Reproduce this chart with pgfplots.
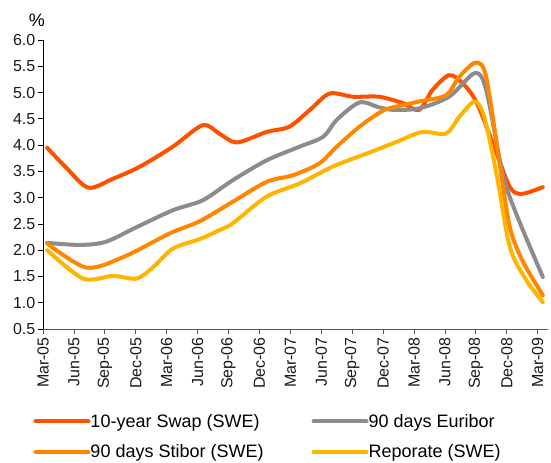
\documentclass[border=0pt]{standalone}
\usepackage{fontspec}
\setmainfont{Liberation Sans}
\usepackage{pgfplots}
\pgfplotsset{compat=1.18}
\definecolor{cswap}{RGB}{255,80,0}
\definecolor{ceur}{RGB}{140,140,140}
\definecolor{cstib}{RGB}{255,135,0}
\definecolor{crepo}{RGB}{255,180,0}
\begin{document}
\begin{tikzpicture}
\path[use as bounding box] (-43bp,-134bp) rectangle (508bp,329bp);
\begin{axis}[
  at={(0,0)}, anchor=south west,
  scale only axis, width=505bp, height=289bp,
  xmin=0, xmax=49, ymin=0.5, ymax=6.0,
  axis x line*=bottom, axis y line*=left,
  x axis line style={-, draw=black!65, line width=0.8bp},
  y axis line style={-, draw=black, line width=0.8bp},
  xtick={0,3,...,48},
  xticklabels={Mar-05,Jun-05,Sep-05,Dec-05,Mar-06,Jun-06,Sep-06,Dec-06,Mar-07,Jun-07,Sep-07,Dec-07,Mar-08,Jun-08,Sep-08,Dec-08,Mar-09},
  ytick={0.5,1,1.5,2,2.5,3,3.5,4,4.5,5,5.5,6},
  tick align=outside, major tick length=5bp,
  x tick style={draw=black!65, line width=0.8bp},
  y tick style={draw=black, line width=0.8bp},
  /pgf/number format/assume math mode=true,
  yticklabel style={/pgf/number format/fixed, /pgf/number format/fixed zerofill, /pgf/number format/precision=1, inner sep=2.5bp},
  tick label style={font=\fontsize{16bp}{18bp}\selectfont, text=black!90},
  x tick label style={rotate=90, anchor=east, inner sep=3bp},
  ylabel={\%},
  every axis y label/.style={at={(rel axis cs:0,1)}, anchor=center, xshift=-6bp, yshift=20bp, font=\fontsize{18bp}{20bp}\selectfont},
  legend columns=2,
  legend style={draw=none, fill=none, at={(rel axis cs:0,0)}, anchor=north west, xshift=-9.7bp, yshift=-85bp,
    font=\fontsize{18bp}{20bp}\selectfont, row sep=16bp, inner sep=0pt,
    /tikz/every odd column/.append style={column sep=0bp},
    /tikz/every even column/.append style={column sep=48bp},
    cells={anchor=west}, nodes={inner sep=0pt}},
  legend image code/.code={\draw[#1, line width=4bp, line cap=round] (0bp,0bp) -- (53bp,0bp);},
  every axis plot/.append style={line width=4bp, smooth, tension=0.5, line cap=round, line join=round},
]
\addplot[cswap] coordinates {
(0.4,3.95) (2.3,3.56) (4.4,3.19) (6.8,3.36) (9.4,3.59) (12.6,3.97) (15.5,4.38) (17.1,4.22) (18.8,4.05) (21.7,4.25) (23.9,4.35) (25.9,4.67) (27.8,4.98) (30.1,4.92) (32.6,4.92) (34.9,4.80) (36.5,4.67) (37.8,5.05) (39.4,5.33) (40.7,5.18) (42.1,4.80) (44.0,3.85) (45.3,3.20) (46.4,3.07) (48.5,3.20)
};
\addlegendentry{10-year Swap (SWE)}
\addplot[ceur] coordinates {
(0.4,2.14) (3.6,2.10) (6.1,2.16) (9.1,2.44) (12.6,2.76) (15.5,2.95) (18.4,3.33) (21.7,3.71) (24.9,3.97) (27.2,4.16) (28.5,4.48) (30.7,4.81) (32.6,4.72) (34.0,4.67) (36.5,4.70) (39.4,4.92) (41.9,5.37) (43.0,5.05) (44.6,3.46) (45.9,2.70) (48.5,1.49)
};
\addlegendentry{90 days Euribor}
\addplot[cstib] coordinates {
(0.4,2.13) (4.2,1.67) (7.8,1.87) (12.3,2.32) (15.2,2.55) (18.4,2.92) (21.7,3.30) (24.3,3.43) (26.8,3.65) (28.5,3.97) (30.7,4.35) (32.6,4.61) (33.6,4.70) (36.5,4.83) (39.1,4.95) (40.4,5.30) (42.0,5.57) (43.0,5.30) (44.3,3.65) (45.3,2.44) (46.5,1.81) (48.5,1.14)
};
\addlegendentry{90 days Stibor (SWE)}
\addplot[crepo] coordinates {
(0.4,2.00) (3.9,1.46) (6.8,1.51) (9.1,1.46) (10.7,1.68) (12.6,2.03) (15.2,2.21) (17.1,2.38) (18.4,2.51) (21.7,3.02) (24.9,3.27) (28.1,3.59) (31.7,3.86) (34.3,4.06) (36.8,4.25) (39.1,4.22) (40.4,4.54) (41.9,4.83) (42.8,4.54) (44.0,3.46) (45.3,2.06) (46.9,1.43) (48.5,1.01)
};
\addlegendentry{Reporate (SWE)}
\end{axis}
\end{tikzpicture}
\end{document}
